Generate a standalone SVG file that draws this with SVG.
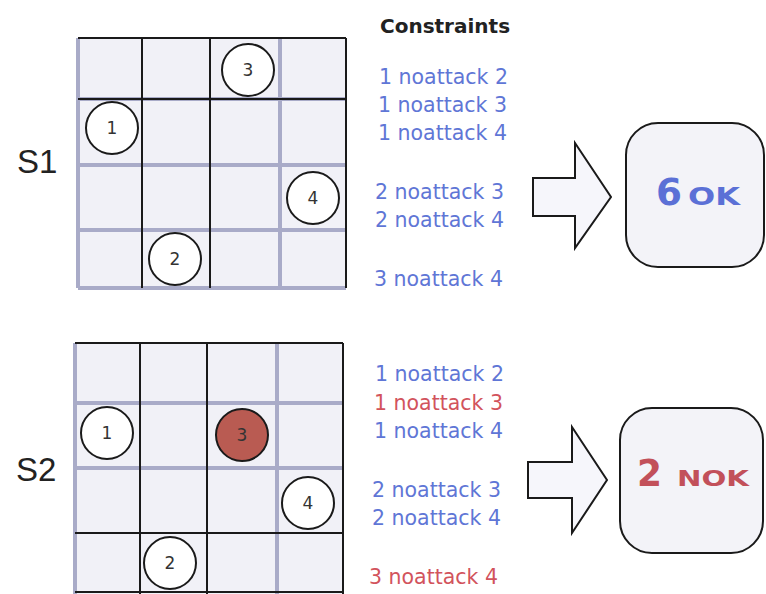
<svg xmlns="http://www.w3.org/2000/svg" width="766" height="594" viewBox="0 0 766 594">
<style>
.cell{fill:#f1f1f7}
.g{stroke:#a9abc8;stroke-width:4;fill:none}
.k{stroke:#1a1a1a;stroke-width:2;fill:none}
.q{fill:#fff;stroke:#1a1a1a;stroke-width:2}
.qn{font-family:"DejaVu Sans",sans-serif;font-size:17px;fill:#333;text-anchor:middle}
.lbl{font-family:"Liberation Sans",Arial,sans-serif;font-size:33px;fill:#222}
.c{font-family:"DejaVu Sans",sans-serif;font-size:20.5px}
.b{fill:#5f76d6}
.r{fill:#d2535c}
.hd{font-family:"DejaVu Sans",sans-serif;font-size:20px;font-weight:bold;fill:#222}
.res{font-family:"DejaVu Sans",sans-serif;font-weight:bold}
.arrow{fill:#f6f6fb;stroke:#1a1a1a;stroke-width:2;stroke-linejoin:miter}
.box{fill:#f3f3f8;stroke:#1a1a1a;stroke-width:2}
</style>

<g id="S1-board">
<rect class="cell" x="78" y="38" width="268" height="250"/>
<path class="g" d="M78 38V288M78 288H346M78 165H346M78 230H346M280 38V288M78 99H346"/>
<path class="k" d="M78 38H346M142 38V288M210 38V288M346 38V288M78 99H346"/>
<text class="lbl" x="17" y="173">S1</text>
</g>
<g id="S1-q3"><circle class="q" cx="248" cy="70" r="26"/><text class="qn" x="248" y="76">3</text></g>
<g id="S1-q1"><circle class="q" cx="112" cy="128" r="26"/><text class="qn" x="112" y="134">1</text></g>
<g id="S1-q4"><circle class="q" cx="313" cy="198" r="26"/><text class="qn" x="313" y="204">4</text></g>
<g id="S1-q2"><circle class="q" cx="175" cy="259" r="26"/><text class="qn" x="175" y="265">2</text></g>

<g id="S1-constraints">
<text class="hd" x="380" y="33">Constraints</text>
<text class="c b" x="379" y="84">1 noattack 2</text>
<text class="c b" x="378" y="112">1 noattack 3</text>
<text class="c b" x="378" y="140">1 noattack 4</text>
<text class="c b" x="375" y="199">2 noattack 3</text>
<text class="c b" x="375" y="227">2 noattack 4</text>
<text class="c b" x="374" y="286">3 noattack 4</text>
</g>

<g id="S1-result">
<rect class="box" x="626" y="123" width="138" height="144" rx="32"/>
<text class="res" x="656" y="205" font-size="37" fill="#5b70d6" textLength="26" lengthAdjust="spacingAndGlyphs">6</text>
<text class="res" x="688" y="205" font-size="24.5" fill="#5b70d6" textLength="52" lengthAdjust="spacingAndGlyphs">OK</text>
</g>

<g id="S2-board">
<rect class="cell" x="75" y="343" width="268" height="251"/>
<path class="g" d="M75 343V594M75 403H343M75 468H343M277 343V594"/>
<path class="k" d="M75 343H343M140 343V594M207 343V594M343 343V594M75 533H343M75 592H343"/>
<text class="lbl" x="16" y="481">S2</text>
</g>
<g id="S2-q1"><circle class="q" cx="107" cy="433" r="26"/><text class="qn" x="107" y="439">1</text></g>
<g id="S2-q3"><circle class="q" cx="242" cy="435" r="26" style="fill:#b95b52"/><text class="qn" x="242" y="441">3</text></g>
<g id="S2-q4"><circle class="q" cx="308" cy="503" r="26"/><text class="qn" x="308" y="509">4</text></g>
<g id="S2-q2"><circle class="q" cx="170" cy="563" r="26"/><text class="qn" x="170" y="569">2</text></g>

<g id="S2-constraints">
<text class="c b" x="375" y="381">1 noattack 2</text>
<text class="c r" x="374" y="410">1 noattack 3</text>
<text class="c b" x="374" y="438">1 noattack 4</text>
<text class="c b" x="372" y="497">2 noattack 3</text>
<text class="c b" x="372" y="525">2 noattack 4</text>
<text class="c r" x="369" y="584">3 noattack 4</text>
</g>

<g id="S2-result">
<rect class="box" x="620" y="408" width="143" height="145" rx="32"/>
<text class="res" x="637" y="486" font-size="37" fill="#c2505a" textLength="25" lengthAdjust="spacingAndGlyphs">2</text>
<text class="res" x="677" y="486" font-size="22" fill="#c2505a" textLength="72" lengthAdjust="spacingAndGlyphs">NOK</text>
</g>

<g id="connectors">
<path class="arrow" d="M533 178H575V143L611 197L575 248V216H533Z"/>
<path class="arrow" d="M528 462H572V427L607 480L572 533V498H528Z"/>
</g>
</svg>
